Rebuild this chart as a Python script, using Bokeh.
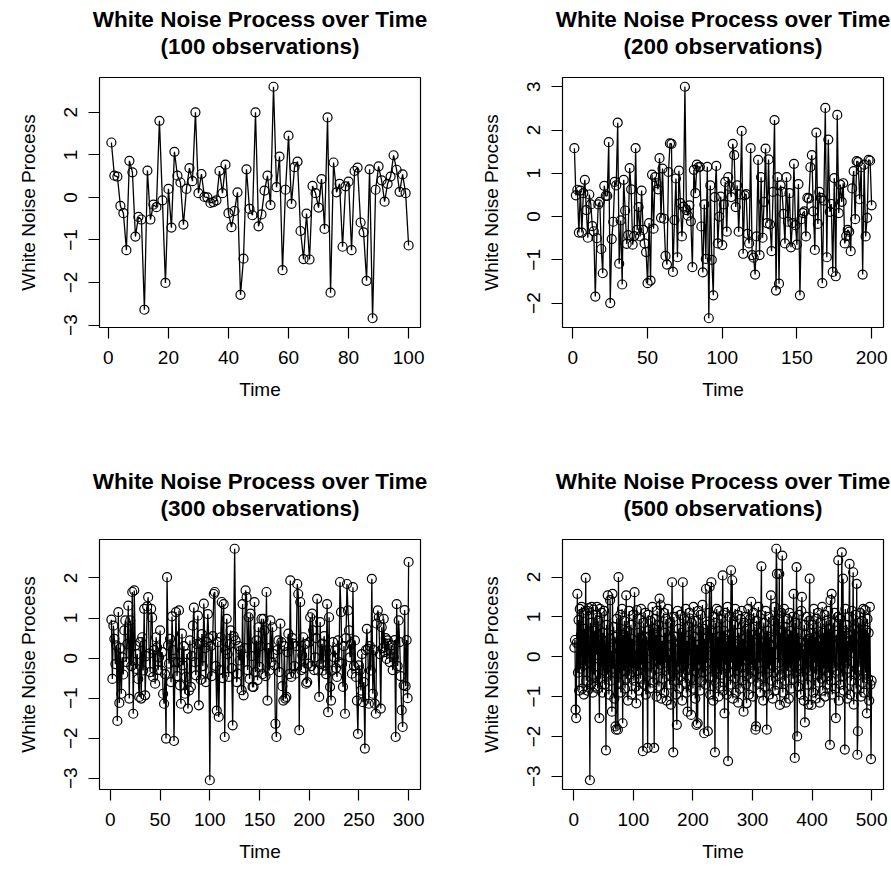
from bokeh.plotting import figure
from bokeh.models import Title, FixedTicker, Range1d
from bokeh.layouts import row, column
from bokeh.embed import file_html
from bokeh.resources import INLINE

# ---------------- data ----------------
wn_100 = [1.29, 0.51, 0.49, -0.20, -0.37, -1.24, 0.86, 0.59, -0.92, -0.46,
          -0.52, -2.64, 0.63, -0.52, -0.17, -0.23, 1.80, -0.07, -2.01, 0.20,
          -0.71, 1.07, 0.51, 0.35, -0.64, 0.20, 0.69, 0.38, 2.00, 0.10,
          0.55, 0.01, 0.00, -0.13, -0.11, -0.07, 0.62, 0.10, 0.77, -0.37,
          -0.70, -0.32, 0.12, -2.29, -1.44, 0.66, -0.27, -0.42, 2.00, -0.68,
          -0.40, 0.16, 0.51, -0.18, 2.60, 0.24, 0.96, -1.71, 0.18, 1.45,
          -0.15, 0.71, 0.84, -0.79, -1.45, -0.38, -1.46, 0.27, 0.10, -0.24,
          0.43, -0.74, 1.88, -2.24, 0.82, 0.12, 0.32, -1.16, 0.26, 0.37,
          -1.24, 0.62, 0.70, -0.59, -0.82, -1.96, 0.66, -2.84, 0.18, 0.73,
          0.40, -0.10, 0.32, 0.49, 0.99, 0.65, 0.13, 0.54, 0.10, -1.13]

wn_200 = [1.58, 0.49, 0.62, -0.37, 0.60, -0.37, 0.54, 0.85, 0.15, -0.49,
          0.51, 0.28, -0.22, -0.34, -1.85, -0.50, 0.28, 0.34, -0.75, -1.31,
          0.71, 0.48, 0.48, 1.72, -2.00, -0.52, -0.12, 0.80, 0.72, 2.17,
          -1.09, -0.09, -1.57, 0.85, 0.14, -0.63, -0.43, 1.12, 0.63, -0.65,
          -0.45, 1.58, -0.31, 0.22, -0.46, 0.60, -0.31, -0.62, -0.82, -1.54,
          -0.15, -1.48, 0.97, -0.28, 0.91, 0.77, 0.63, 1.35, -0.03, 1.11,
          -0.05, -0.91, -1.11, 1.03, 1.69, 1.68, -1.28, -0.08, 0.88, -0.94,
          1.06, 0.31, -0.46, 0.23, 3.00, 0.15, 0.02, 0.26, -0.11, -1.17,
          1.08, 0.54, 1.20, 1.14, 1.15, -0.23, -1.29, 0.28, -0.98, 1.15,
          -2.35, 0.72, -1.00, -1.82, 0.45, 1.17,
          -0.62, 0.00, 0.46, -0.66, 0.28, 0.80, -0.35, 0.91, 0.69, 0.45,
          1.68, 1.42, 0.22, 0.72, -0.35, 0.51, 1.98, -0.86, 0.49, 0.52,
          -0.40, -0.62, 1.58, -0.89, -0.95, -1.34, -0.46, 1.31, -0.89, 0.91,
          -0.49, 0.34, 1.57, -0.15, 1.32, -0.18, -0.80, 0.57, 2.23, -1.71,
          0.91, -1.55, 0.72, 0.57, 0.06, -0.62, 0.91, -0.12, 0.54, -0.71,
          -0.15, 1.22, -0.20, -0.65, 0.75, -1.82, -0.06, 0.08, 0.12, -0.46,
          0.43, 0.42, 1.14, 1.42, 0.12, -0.77, 1.94, -0.17, 0.57, 0.43,
          -1.54, 0.37, 2.51, -0.94, 1.78, 0.11, 0.29, -1.28, 0.89, -1.38,
          2.35, 0.08, 0.74, 0.34, 0.77, -0.62, -0.45, -0.31, -0.35, -0.80,
          0.65, 1.05, -0.06, 1.28, 1.26, 0.40, 1.14, -1.34, 1.20, -0.46,
          -0.03, 1.31, 1.29, 0.26]

wn_300 = [0.96, -0.52, 0.81, 0.48, -0.15, 0.32, -1.57, 1.15, -1.12, 0.25,
          -0.89, 0.02, -0.41, 0.69, 0.94, -0.10, 0.35, 1.31, -1.01, 0.94,
          -0.20, 1.65, -1.39, 1.69, 0.32, -0.27, 0.10, -0.52, -0.97, 0.40,
          -1.01, 0.52, -0.31, 1.23, -0.93, 0.05, 1.29, 1.52, 0.11, -0.35,
          1.23, 1.01, -0.47, 0.20, -0.64, 0.52, 0.27, -0.30, 0.02, 0.69,
          -0.31, 0.15, -0.89, -1.14, -0.40, -2.01, 2.02, 0.32, -0.14, 0.48,
          -0.60, 1.04, 0.20, -2.07, -0.10, 1.15, -0.45, -0.10, 1.19, -0.68,
          -1.14, 0.61, -0.18, 0.30, -0.89, -0.47, 0.10, -1.26, -0.81, 0.44,
          -0.72, 0.05, 0.81, 1.26, -0.10, -0.43, 0.35, 1.06, -1.18, 0.36,
          -0.54, 0.60, -0.20, 1.36, 0.25, -0.60, 0.40, 1.10, 0.50,
          -3.05, 0.30, -0.45, 0.55, 1.60, 1.65, -0.20, -1.31, 0.40, -1.47,
          -0.30, 0.52, 1.40, -0.50, 1.35, -1.97, 0.20, 0.98, 0.10, -0.47,
          0.35, 0.69, -0.25, -1.68, 0.55, 2.73, 0.44, -0.60, -0.39, 0.30,
          -0.06, 0.19, -0.80, 1.35, -0.93, 0.25, 1.69, 1.52, -0.30, 1.02,
          -0.52, 1.11, 0.05, -0.72, -0.72, 1.40, -0.35, 0.44, -0.55, 0.77,
          -0.22, 0.30, 0.98, -0.40, 0.98, 0.69, -0.45, 1.65, -1.06, 0.25,
          -0.31, 0.94, -0.10, 0.77, 0.10, -0.18, -1.64, -1.97, 0.20, 0.44,
          -0.35, 0.86, 0.40, -0.70, -1.06, 0.30, -1.01, -0.97, 0.15, 0.61,
          -0.40, 1.94, -0.47, 0.50, 0.36, -0.20, -0.39, 0.30, 1.85, 1.60,
          -1.80, 1.40, -0.30, 0.07, 0.52, -0.25, 0.35, -0.64, -0.60, -0.14,
          0.40, 1.02, -0.20, 1.11, 0.69, -0.30, 0.02, 0.50, 1.48, -0.31,
          -0.97, 0.90, -0.15, 0.36, -0.31, 0.55, 0.19, -0.40, 1.35, -1.35,
          1.02, -0.72, -1.06, -0.31, 0.40, 0.02, 0.19, -0.25, -0.47, 0.44,
          -0.10, 1.90, 1.15, -0.14, -0.72, 0.30, -1.39, 0.50, 1.85, 1.19,
          0.69, 0.02, 0.35, -0.39, 1.77, -0.20, 0.44, -0.47, -1.06, -1.89,
          -0.18, -0.31, -0.81, 0.10, -1.10, -0.60, -2.26, 0.20, 0.73, 0.23,
          -1.14, 0.30, -0.31, 1.98, -0.89, 0.20, -1.14, -1.39, 0.86, 1.19,
          1.02, 0.10, -1.26, 0.77, 0.25, 0.98, 0.15, 0.50, -0.02, 0.44,
          0.36, -0.10, 0.19, 0.32, -0.30, 0.02, 0.45, -1.97, 1.35, -0.20,
          0.94, 0.40, -0.45, -1.30, -1.72, -0.68, 1.20, -0.70, 0.45, -1.00,
          2.40]

wn_500 = [0.23, 0.42, -1.33, -1.54, 0.35, 1.58, -0.40, 0.92, -0.85, 1.20,
          -0.30, 0.55, 1.25, -0.80, 0.10, 1.10, -0.95, 0.70, -0.20, 1.98,
          -0.60, 1.15, -0.85, 0.40, 1.22, -0.15, -3.10, 0.85, -0.70, 1.25,
          0.20, -0.90, 1.18, -0.45, 0.65, -0.75, 1.05, 0.05, 1.25, -0.80,
          0.90, -0.25, -1.54, 1.20, -0.55, 0.30, 1.10, -0.90, 0.60, -0.35,
          1.15, -0.70, 0.25, -2.35, 0.80, -0.45, 1.54, -0.10, -0.95, 0.45,
          1.42, -0.60, 0.15, -1.38, 1.58, -0.30, 0.75, -1.05, 0.50, -1.75,
          -1.83, 0.95, -0.20, -1.83, 2.00, -0.65, 0.40, 1.05, -0.90, 0.20,
          1.20, -1.67, 0.55, -0.35, 0.90, -0.80, 0.10, 1.54, -0.55, 0.65,
          -1.10, 0.35, 1.15, -0.45, 0.00, 0.80, -0.95, 0.45, -0.30, 1.05,
          -0.60, 1.62, 0.20, -0.75, -1.17, 1.17, -0.35, 0.60, -0.85, 0.95,
          0.10, -0.55, 1.20, -0.20, 0.45, -2.37, 0.85, -0.70, 0.30, 1.10,
          -0.95, 0.50, -0.25, -2.29, 1.05, 0.15, 0.67, -0.80, 0.90, -0.40,
          0.35, 1.25, -0.65, 0.70, -2.29, 0.95, -0.10, 0.55, -1.00, 1.15,
          -0.30, 0.80, -0.75, 1.46, -0.20, 1.29, -1.05, 0.40, -0.55, 0.25,
          1.10, -0.90, 0.60, -0.15, 0.95, -1.10, 0.30, 1.20, -0.45, 0.05,
          -0.70, 0.85, -1.20, 0.45, 1.87, -0.35, -2.40, 1.00, -0.60, 0.50,
          0.20, -0.95, -1.71, 1.15, -0.25, 0.70, -0.80, 0.35, 1.05, -0.50,
          0.60, -1.10, 1.87, -0.40, 0.95, 0.10, -0.65, 1.20, -0.90, 0.40,
          -1.38, 0.75, -0.30, 1.10, 0.96, -0.55, -1.46, 0.85, 0.15, -0.80,
          1.25, -0.35, 0.50, -1.05, 0.90, -1.71, 0.30, -1.67, 1.15, -0.20,
          0.65, -0.85, 1.05, 0.00, -0.60, 1.30, -0.40, 0.70, -1.92, 0.45,
          -0.70, 1.70, -0.15, 0.80, -1.87, 0.35, 1.10, 1.75, -0.95, 0.25,
          1.87, -0.50, 0.60, -1.10, 1.00, -0.25, -2.40, 0.85, -0.65, 1.20,
          -0.30, 0.50, -1.00, 1.15, 0.20, -0.75, 0.95, -0.45, 0.30, 2.04,
          -0.85, 0.65, -1.42, 1.10, -0.20, 0.40, -0.95, 1.25, -2.62, 0.55,
          -0.40, 1.00, -0.70, 2.17, -0.15, 1.92, -1.05, 0.35, 0.80, -0.55,
          1.20, -0.90, 0.25, -0.35, 1.05, -1.15, 0.60, 0.10, -0.80, 0.95,
          -0.25, 1.15, -0.60, 0.45, -1.38, 0.85, -0.10, 1.00, -0.70, -1.17,
          0.70, -0.45, 1.20, -0.95, 0.30, 0.95, -0.55, 1.38, -0.20, 0.55,
          -1.00, 1.10, -0.35, 0.75, -1.83, -1.75, 0.90, 0.20, -0.65, 1.25,
          -0.15, 0.60, -0.90, 1.05, 2.27, -0.50, 0.35, -1.10, 0.85, 0.00,
          -0.75, 1.15, 0.40, -1.83, 0.65, -0.30, 1.00, -0.95, 0.50, -0.20,
          1.54, -0.60, 0.25, -1.05, 0.90, -0.40, 1.25, -0.85, 0.45, 2.71,
          2.08, -0.70, 0.95, -0.15, 2.08, -1.21, 0.60, -0.45, 1.10, 2.54,
          -0.90, 0.30, 1.20, -0.60, 0.75, -1.15, 0.15, 0.95, -0.35, 0.55,
          -1.05, 1.10, -0.25, 0.65, -0.80, 0.40, 1.00, -0.55, 1.58, -0.20,
          -2.54, 0.85, -0.40, 2.25, -2.00, 0.60, -0.75, 1.05, -0.10, 0.35,
          -0.95, 1.15, 1.50, -0.50, 0.20, -1.10, 0.80, -1.65, 0.55, -0.30,
          1.00, -0.70, 0.45, -1.20, 0.90, 1.96, -0.35, 0.60, -1.21, 0.15,
          0.80, -0.90, 1.20, -0.15, 0.50, -1.05, 0.95, -0.45, 0.25, 1.10,
          -0.65, 0.40, -1.15, 0.85, 0.05, -0.55, 1.25, -0.85, 0.60, -0.30,
          1.05, -1.00, 0.35, 0.90, -0.70, 0.15, 1.15, -0.40, 0.70, -2.21,
          1.42, -0.60, 1.58, -0.95, 0.30, 0.85, -0.25, 1.10, -0.80, -1.54,
          0.55, -0.35, 1.00, 2.42, -1.10, 0.45, 0.95, -0.70, 0.20, 2.62,
          -0.50, 1.96, -0.85, 0.65, -2.33, 1.20, -0.15, 0.80, -1.05, 0.40,
          -0.30, 1.00, 2.33, -0.95, 0.55, -0.60, 1.15, 0.10, 2.12, -1.20,
          0.70, -0.45, 1.05, -0.80, 1.83, -2.46, -1.87, 0.85, -0.25, 0.50,
          1.10, -1.00, 0.35, 0.90, -0.65, 1.20, -0.90, 0.15, 1.17, -0.40,
          0.67, -1.42, 0.95, -0.55, 0.60, -1.10, 1.25, -0.70, -2.57, -0.60]

xticks_100 = [0, 20, 40, 60, 80, 100]
xticks_200 = [0, 50, 100, 150, 200]
xticks_300 = [0, 50, 100, 150, 200, 250, 300]
xticks_500 = [0, 100, 200, 300, 400, 500]
yticks_100 = [-3, -2, -1, 0, 1, 2]
yticks_200 = [-2, -1, 0, 1, 2, 3]
yticks_300 = [-3, -2, -1, 0, 1, 2]
yticks_500 = [-3, -2, -1, 0, 1, 2]

title_main = "White Noise Process over Time"
y_title = "White Noise Process"
x_title = "Time"

FONT = "Liberation Sans"


def fmt(v):
    s = str(abs(v))
    return ("\u2212" + s) if v < 0 else s


def panel(vals, xticks, yticks, right_border, bottom_border):
    n = len(vals)
    t = list(range(1, n + 1))
    xpad = (n - 1) * 0.04
    lo, hi = min(vals), max(vals)
    ypad = (hi - lo) * 0.04
    p = figure(frame_width=321, frame_height=250,
               min_border_left=99, min_border_right=right_border,
               min_border_top=96, min_border_bottom=bottom_border,
               x_range=Range1d(1 - xpad, n + xpad),
               y_range=Range1d(lo - ypad, hi + ypad),
               output_backend="svg", toolbar_location=None)
    p.add_layout(Title(text="%s\n(%d observations)" % (title_main, n),
                       align="center", text_align="center",
                       text_font=FONT, text_font_size="22.5px",
                       text_font_style="bold", text_color="black",
                       standoff=37, text_line_height=1.07), "above")
    p.line(t, vals, line_color="black", line_width=1.3)
    p.scatter(t, vals, marker="circle", size=9, fill_color=None,
              line_color="black", line_width=1.2)
    p.grid.visible = False
    p.outline_line_color = "black"
    p.outline_line_width = 1.2
    p.background_fill_color = "white"
    p.border_fill_color = "white"

    p.xaxis.ticker = FixedTicker(ticks=xticks)
    p.yaxis.ticker = FixedTicker(ticks=yticks)
    p.yaxis.major_label_overrides = {v: fmt(v) for v in yticks}
    p.xaxis.major_label_overrides = {v: fmt(v) for v in xticks}
    p.yaxis.major_label_orientation = "vertical"
    p.xaxis.axis_label = x_title
    p.yaxis.axis_label = y_title
    for ax in (p.xaxis, p.yaxis):
        ax.axis_line_color = None
        ax.major_tick_line_color = "black"
        ax.major_tick_line_width = 1.2
        ax.major_tick_out = 11
        ax.major_tick_in = 0
        ax.minor_tick_line_color = None
        ax.major_label_text_font = FONT
        ax.major_label_text_font_size = "19px"
        ax.major_label_text_color = "black"
        ax.axis_label_text_font = FONT
        ax.axis_label_text_font_size = "19px"
        ax.axis_label_text_font_style = "normal"
        ax.axis_label_text_color = "black"
    p.xaxis.major_label_standoff = 12
    p.yaxis.major_label_standoff = 11
    p.xaxis.axis_label_standoff = 12
    p.yaxis.axis_label_standoff = 23
    return p


# top row: 96 + 250 + 116 = 462 px tall; bottom row: 96 + 250 + 92 = 438 px
p1 = panel(wn_100, xticks_100, yticks_100, 43, 116)
p2 = panel(wn_200, xticks_200, yticks_200, 8, 116)
p3 = panel(wn_300, xticks_300, yticks_300, 43, 92)
p4 = panel(wn_500, xticks_500, yticks_500, 8, 92)

# the R figure is cropped slightly at the top: shift the whole grid up
layout = column(row(p1, p2), row(p3, p4), styles={"margin-top": "-19px"})
open("out.html", "w").write(file_html(layout, INLINE))
